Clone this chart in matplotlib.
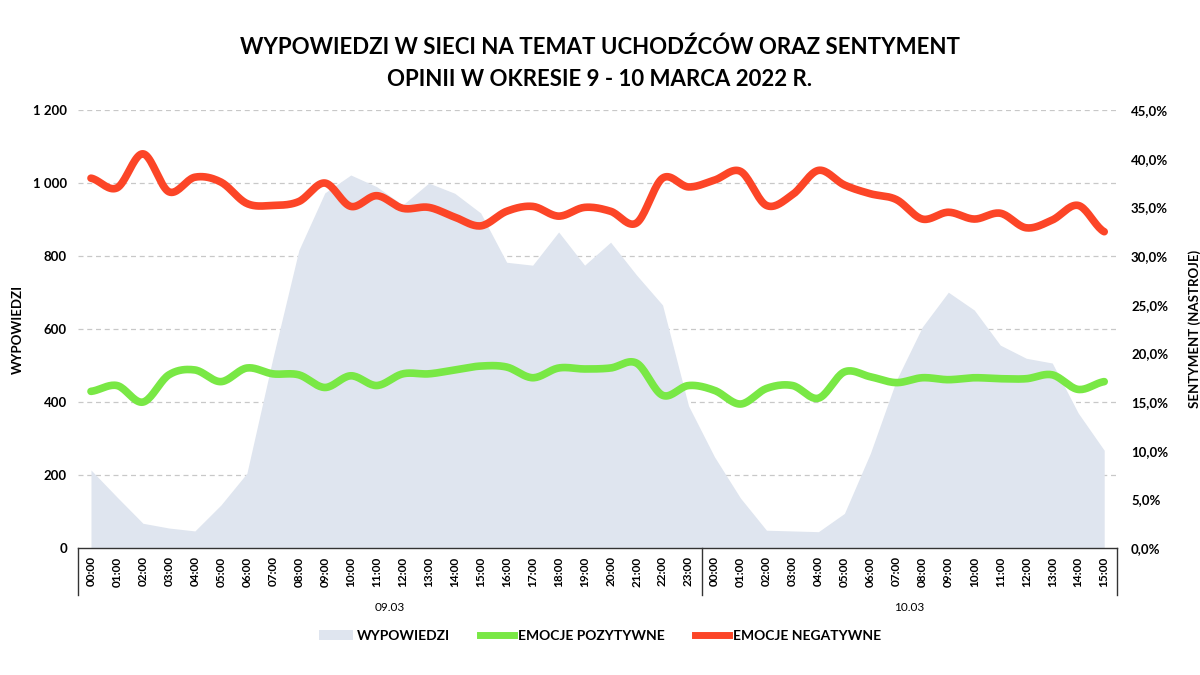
import numpy as np
import matplotlib.pyplot as plt
from matplotlib.lines import Line2D
from matplotlib.patches import Patch
from matplotlib.ticker import FuncFormatter
import matplotlib.transforms as mtransforms

plt.rcParams['font.family'] = ['Lato', 'DejaVu Sans']

# hours for the two days
hours_day1 = [f"{h:02d}:00" for h in range(24)]
hours_day2 = [f"{h:02d}:00" for h in range(16)]
hour_labels = hours_day1 + hours_day2
day_labels = ["09.03", "10.03"]

# number of statements per hour (left axis)
wypowiedzi = [214, 140, 68, 55, 47, 118, 205, 520, 816, 973,
              1022, 990, 940, 1000, 972, 918, 783, 775, 866, 775,
              838, 748, 666, 390,
              250, 137, 49, 47, 45, 95, 260, 460, 606, 701,
              652, 556, 520, 507, 370, 268]

# sentiment shares in % (right axis)
pozytywne = [16.1, 16.7, 15.0, 17.8, 18.3, 17.1, 18.5, 17.9, 17.8, 16.5,
             17.7, 16.7, 17.9, 17.9, 18.3, 18.7, 18.6, 17.5, 18.5, 18.4,
             18.5, 19.0, 15.7, 16.7,
             16.2, 14.8, 16.4, 16.7, 15.4, 18.1, 17.6, 17.0, 17.5, 17.3,
             17.5, 17.4, 17.4, 17.8, 16.3, 17.1]
negatywne = [38.0, 37.0, 40.5, 36.6, 38.1, 37.6, 35.4, 35.2, 35.6, 37.5,
             35.1, 36.2, 34.9, 35.0, 34.0, 33.1, 34.6, 35.1, 34.1, 35.0,
             34.6, 33.4, 38.0, 37.1,
             37.8, 38.7, 35.2, 36.3, 38.8, 37.3, 36.4, 35.8, 33.8, 34.5,
             33.8, 34.4, 32.9, 33.7, 35.2, 32.5]

AREA_COLOR = '#dfe5ef'
GREEN = '#79e845'
RED = '#fc4527'


def smooth(y, steps=20):
    # Catmull-Rom spline, similar to the "smoothed line" option of spreadsheets
    y = np.asarray(y, dtype=float)
    p = np.concatenate([[y[0]], y, [y[-1]]])
    xs, ys = [], []
    t = np.linspace(0, 1, steps, endpoint=False)
    for i in range(len(y) - 1):
        p0, p1, p2, p3 = p[i], p[i + 1], p[i + 2], p[i + 3]
        seg = 0.5 * ((2 * p1) + (-p0 + p2) * t +
                     (2 * p0 - 5 * p1 + 4 * p2 - p3) * t ** 2 +
                     (-p0 + 3 * p1 - 3 * p2 + p3) * t ** 3)
        xs.append(i + t)
        ys.append(seg)
    xs.append([len(y) - 1])
    ys.append([y[-1]])
    return np.concatenate(xs), np.concatenate(ys)


fig = plt.figure(figsize=(12, 6.75), dpi=100)
ax = fig.add_axes([0.065, 0.188, 0.866, 0.649])
ax2 = ax.twinx()

x = np.arange(len(hour_labels))
ax.fill_between(x, wypowiedzi, 0, color=AREA_COLOR, linewidth=0, zorder=2)
ax.set_ylim(0, 1200)
ax.set_xlim(-0.5, len(hour_labels) - 0.5)
ax.set_yticks(range(0, 1201, 200))
ax.yaxis.set_major_formatter(FuncFormatter(lambda v, p: f"{int(v):,}".replace(',', ' ')))
for yv in range(200, 1201, 200):
    ax.axhline(yv, color='#c8c8c8', lw=0.9, ls=(0, (4, 3)), zorder=1)

xs, ys = smooth(negatywne)
ax2.plot(xs, ys, color=RED, lw=5.5, solid_capstyle='round', zorder=3)
xs, ys = smooth(pozytywne)
ax2.plot(xs, ys, color=GREEN, lw=5.5, solid_capstyle='round', zorder=3)
ax2.set_ylim(0, 45)
ax2.set_yticks(np.arange(0, 45.1, 5))
ax2.yaxis.set_major_formatter(FuncFormatter(lambda v, p: f"{v:.1f}%".replace('.', ',')))

for s in ax.spines.values():
    s.set_visible(False)
for s in ax2.spines.values():
    s.set_visible(False)
ax.yaxis.set_tick_params(which='major', length=0, pad=8, labelsize=9.5)
ax2.yaxis.set_tick_params(which='major', length=0, pad=10, labelsize=9.5)
for lab in ax.get_yticklabels() + ax2.get_yticklabels():
    lab.set_fontweight('bold')

ax.spines['bottom'].set_visible(True)
ax.spines['bottom'].set_color('#333333')
ax.spines['bottom'].set_linewidth(1.0)
ax.set_xticks(x)
ax.set_xticklabels(hour_labels, rotation=90, fontsize=8.5, fontweight='bold')
ax.tick_params(axis='x', length=0, pad=6)

# multi-level category separators
trans = mtransforms.blended_transform_factory(ax.transData, ax.transAxes)
bottom = -0.107
for xv in [-0.5, len(hours_day1) - 0.5, len(hour_labels) - 0.5]:
    ax.add_line(Line2D([xv, xv], [0, bottom], transform=trans, color='#333333',
                       lw=1.0, clip_on=False))
ax.text((len(hours_day1) - 1) / 2, -0.135, day_labels[0], transform=trans,
        ha='center', va='center', fontsize=8.5)
ax.text(len(hours_day1) + (len(hours_day2) - 1) / 2, -0.135, day_labels[1],
        transform=trans, ha='center', va='center', fontsize=8.5)

ax.set_ylabel('WYPOWIEDZI', fontsize=9.5, fontweight='bold')
ax.yaxis.set_label_coords(-0.052, 0.5)
ax2.set_ylabel('SENTYMENT (NASTROJE)', fontsize=9.5, fontweight='bold')
ax2.yaxis.set_label_coords(1.068, 0.5)

fig.text(0.5, 0.93, 'WYPOWIEDZI W SIECI NA TEMAT UCHODŹCÓW ORAZ SENTYMENT',
         ha='center', va='center', fontsize=16, fontweight='bold')
fig.text(0.5, 0.882, 'OPINII W OKRESIE 9 - 10 MARCA 2022 R.',
         ha='center', va='center', fontsize=16, fontweight='bold')

handles = [Patch(facecolor=AREA_COLOR, edgecolor='none'),
           Line2D([], [], color=GREEN, lw=5),
           Line2D([], [], color=RED, lw=5)]
fig.legend(handles, ['WYPOWIEDZI', 'EMOCJE POZYTYWNE', 'EMOCJE NEGATYWNE'],
           loc='center', bbox_to_anchor=(0.5, 0.058), ncol=3, frameon=False,
           prop={'size': 10, 'weight': 'bold'}, handlelength=2.4,
           handletextpad=0.3, columnspacing=2.2)

fig.savefig('out.png', dpi=100, facecolor='white')
